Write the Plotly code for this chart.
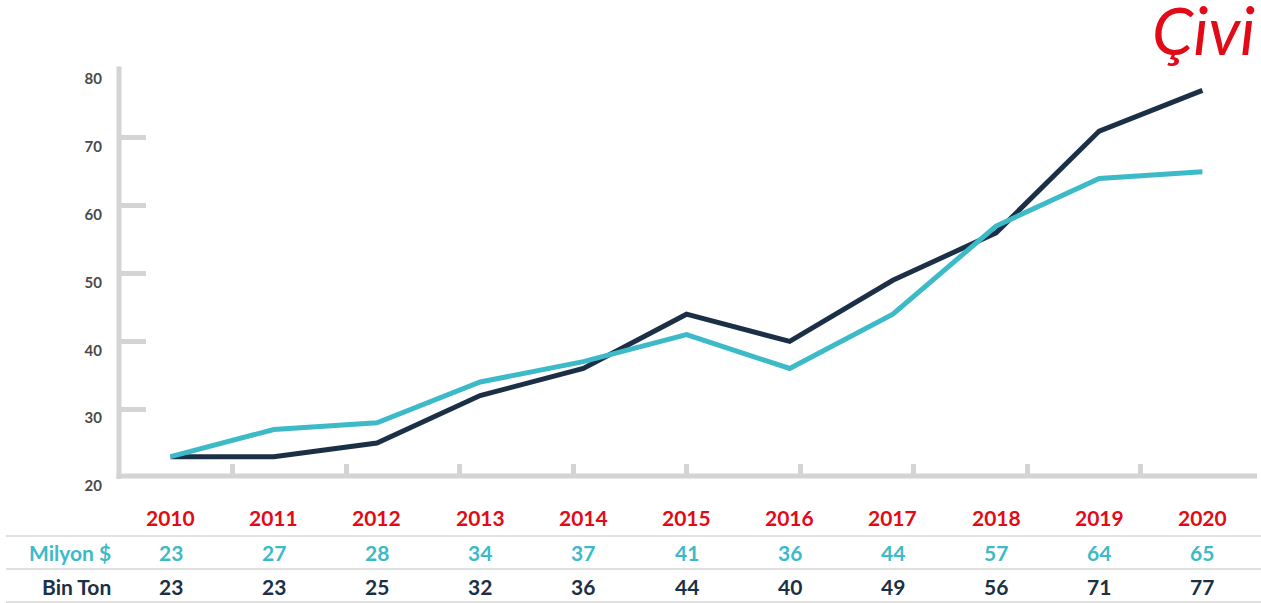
import plotly.graph_objects as go

# ---- data ----
years = [2010, 2011, 2012, 2013, 2014, 2015, 2016, 2017, 2018, 2019, 2020]
milyon_usd = [23, 27, 28, 34, 37, 41, 36, 44, 57, 64, 65]
bin_ton = [23, 23, 25, 32, 36, 44, 40, 49, 56, 71, 77]
row_labels = ["Milyon $", "Bin Ton"]
title_text = "Çivi"
y_ticks = [20, 30, 40, 50, 60, 70, 80]

# ---- styles ----
RED = "#e30a17"
CYAN = "#3dbac8"
NAVY = "#1b3046"
AXIS_GRAY = "#d4d4d4"
SEP_GRAY = "#d6d6d6"
TICK_TXT = "#4a4a4a"
FONT = "Lato"

W, H = 1261, 603
L, R, T, B = 119, 7, 70, 126
plot_w = W - L - R
plot_h = H - T - B

def py(pixel_y):
    """pixel row -> paper y"""
    return (H - B - pixel_y) / plot_h

def px(pixel_x):
    return (pixel_x - L) / plot_w

x_lo, x_hi = years[0] - 0.5, years[-1] + 0.5
n_div = 10
x_tickvals = [x_lo + (x_hi - x_lo) * k / n_div for k in range(n_div + 1)]

fig = go.Figure()
fig.add_trace(go.Scatter(x=years, y=bin_ton, mode="lines", name="Bin Ton",
                         line=dict(color=NAVY, width=5), hoverinfo="skip"))
fig.add_trace(go.Scatter(x=years, y=milyon_usd, mode="lines", name="Milyon $",
                         line=dict(color=CYAN, width=5), hoverinfo="skip"))

shapes = []
# axis lines
shapes.append(dict(type="line", xref="paper", yref="paper", x0=0, x1=0,
                   y0=py(479), y1=py(66.5), line=dict(color=AXIS_GRAY, width=5)))
shapes.append(dict(type="line", xref="paper", yref="paper", x0=px(116.5), x1=px(1257),
                   y0=py(476), y1=py(476), line=dict(color=AXIS_GRAY, width=5)))
# table separators
for yy, wd, col in [(536, 2, "#e2e2e2"), (569, 1.5, SEP_GRAY), (602, 1.5, SEP_GRAY)]:
    shapes.append(dict(type="line", xref="paper", yref="paper", x0=px(6), x1=px(1261),
                       y0=py(yy), y1=py(yy), line=dict(color=col, width=wd)))

annotations = []
# table
rows = [(None, years, RED, 517.5), (row_labels[0], milyon_usd, CYAN, 552),
        (row_labels[1], bin_ton, NAVY, 586.5)]
for label, vals, col, yy in rows:
    for yr, v in zip(years, vals):
        annotations.append(dict(x=yr, xref="x", y=py(yy), yref="paper", text=str(v),
                                showarrow=False, xanchor="center", yanchor="middle",
                                font=dict(family=FONT, size=21, color=col, weight="bold")))
    if label:
        annotations.append(dict(x=px(113), xref="paper", y=py(yy), yref="paper", text=label,
                                showarrow=False, xanchor="right", yanchor="middle",
                                font=dict(family=FONT, size=21, color=col, weight="bold")))
# title
annotations.append(dict(x=px(1257), xref="paper", y=py(29), yref="paper", text=title_text,
                        showarrow=False, xanchor="right", yanchor="middle",
                        font=dict(family=FONT, size=66, color=RED, style="italic")))

fig.update_layout(
    width=W, height=H,
    margin=dict(l=L, r=R, t=T, b=B, pad=0),
    paper_bgcolor="white", plot_bgcolor="white",
    showlegend=False,
    shapes=shapes, annotations=annotations,
    xaxis=dict(range=[x_lo, x_hi], showgrid=False, zeroline=False, showline=False,
               tickmode="array", tickvals=x_tickvals, ticktext=[""] * len(x_tickvals),
               ticks="inside", ticklen=13, tickwidth=5, tickcolor=AXIS_GRAY,
               showticklabels=False, fixedrange=True),
    yaxis=dict(range=[20, 80], showgrid=False, zeroline=False, showline=False,
               tickmode="array", tickvals=y_ticks,
               ticks="inside", ticklen=27, tickwidth=5, tickcolor=AXIS_GRAY,
               tickfont=dict(family=FONT, size=15, color=TICK_TXT, weight="bold"),
               ticklabelshift=9, ticklabelstandoff=16, fixedrange=True),
)

fig.write_html("out.html", config={"displayModeBar": False},
               post_script="document.body.style.margin='0';document.body.style.overflow='hidden';")
